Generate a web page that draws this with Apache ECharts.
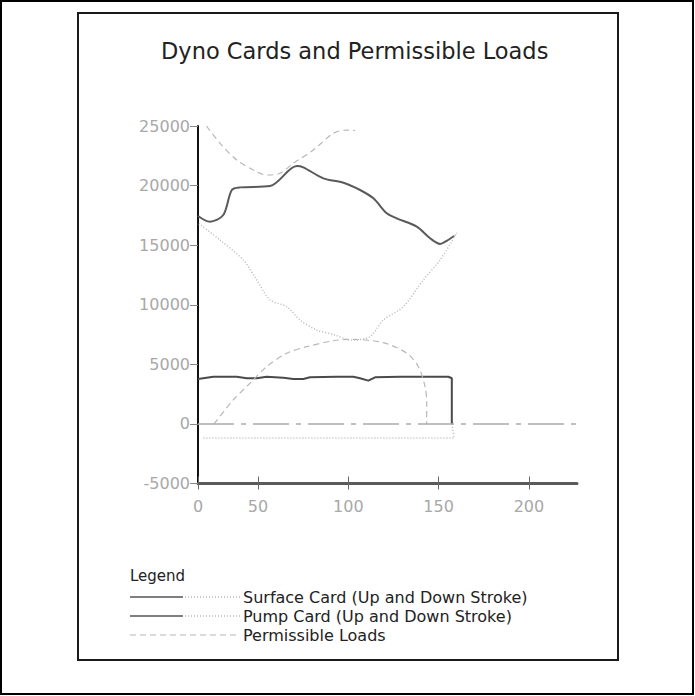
<!DOCTYPE html>
<html>
<head>
<meta charset="utf-8">
<title>Dyno Cards and Permissible Loads</title>
<script src="https://cdn.jsdelivr.net/npm/echarts@6/dist/echarts.min.js"></script>
<style>
  html, body { margin: 0; padding: 0; background: #fff; }
  #chart { width: 695px; height: 696px; }
</style>
</head>
<body>
<div id="chart"></div>
<script>
'use strict';

// x axis: the plot's "0" label sits at the axis origin, the other ticks are evenly spaced
var xTickValues = [16.8, 50, 100, 150, 200];
var xTickLabels = ['0', '50', '100', '150', '200'];

// surface card, up stroke (solid) and down stroke (dotted)
var surfaceUp = [
  [16.8, 17450], [23.4, 16970], [30.8, 17530], [35.5, 19630], [40.1, 19850],
  [56.7, 19960], [71.5, 21640], [75.1, 21530], [86.2, 20610], [97.3, 20240],
  [106.5, 19630], [113.9, 18930], [121.3, 17670], [126.8, 17250], [137.9, 16550],
  [145.3, 15580], [150.8, 15100], [154.5, 15370], [158.6, 15770]
];
var surfaceDown = [
  [158.6, 15770], [160.0, 16020], [150.8, 13750], [141.5, 12080], [130.5, 9840],
  [119.4, 8720], [112.0, 7320], [101.0, 7040], [92.7, 7460], [82.5, 7880],
  [73.3, 8720], [65.9, 9840], [56.7, 10400], [49.3, 12080], [41.9, 13750],
  [29.0, 15430], [16.8, 16860]
];

// pump card, up stroke (solid) and down stroke (dotted)
var pumpUp = [
  [16.8, 3770], [25.3, 3960], [38.2, 3960], [43.8, 3830], [49.3, 3830],
  [54.8, 3960], [64.0, 3880], [69.6, 3770], [75.1, 3770], [78.8, 3910],
  [93.6, 3960], [102.8, 3960], [106.5, 3830], [111.1, 3630], [114.8, 3910],
  [128.6, 3960], [155.4, 3960], [157.3, 3830], [157.3, 0]
];
var pumpDown = [
  [157.3, 0], [158.6, -1180], [19.0, -1180]
];

// permissible loads (max and min)
var permUpper = [
  [21.5, 25000], [29.0, 23550], [38.2, 22150], [47.4, 21310], [54.8, 20890],
  [62.2, 21030], [69.6, 21870], [80.6, 22980], [91.7, 24390], [99.1, 24660],
  [103.7, 24620]
];
var permLower = [
  [25.7, 0], [36.3, 2010], [45.6, 3410], [54.8, 4800], [65.9, 5930],
  [77.0, 6480], [91.7, 6980], [101.0, 7100], [119.4, 6820], [132.4, 5930],
  [138.8, 4800], [142.5, 3120], [143.4, 1730], [143.4, 0]
];

var legendRows = [
  {text: 'Surface Card (Up and Down Stroke)', kind: 'card'},
  {text: 'Pump Card (Up and Down Stroke)', kind: 'card'},
  {text: 'Permissible Loads', kind: 'dash'}
];

var font = 'DejaVu Sans';
var labelGrey = '#a8a8a8';
var dotGrey = '#b8b8b8';

var lineSeries = function (name, data, color, width, type, smooth) {
  return {
    name: name,
    type: 'line',
    data: data,
    smooth: smooth,
    showSymbol: false,
    symbol: 'none',
    silent: true,
    lineStyle: {color: color, width: width, type: type},
    emphasis: {disabled: true},
    z: 3
  };
};

var buildLegend = function () {
  var items = [];
  var x0 = 130;
  items.push({
    type: 'text', left: x0, top: 568, silent: true,
    style: {text: 'Legend', font: '15px "' + font + '"', fill: '#222'}
  });
  for (var i = 0; i < legendRows.length; i++) {
    var y = 597 + i * 19;
    if (legendRows[i].kind === 'card') {
      items.push({
        type: 'line', silent: true,
        shape: {x1: x0, y1: y, x2: 183, y2: y},
        style: {stroke: '#555', lineWidth: 1.5}
      });
      items.push({
        type: 'line', silent: true,
        shape: {x1: 185, y1: y, x2: 240, y2: y},
        style: {stroke: dotGrey, lineWidth: 1.5, lineDash: [1, 2]}
      });
    } else {
      items.push({
        type: 'line', silent: true,
        shape: {x1: x0, y1: y, x2: 240, y2: y},
        style: {stroke: dotGrey, lineWidth: 1.2, lineDash: [6, 4]}
      });
    }
    items.push({
      type: 'text', silent: true, x: 243, y: y,
      style: {
        text: legendRows[i].text, font: '16px "' + font + '"', fill: '#222',
        textVerticalAlign: 'middle', verticalAlign: 'middle'
      }
    });
  }
  return items;
};

var chart = echarts.init(document.getElementById('chart'), null, {renderer: 'svg'});

var option = {
  backgroundColor: '#fff',
  animation: false,
  title: {
    text: 'Dyno Cards and Permissible Loads',
    left: 156,
    top: 34,
    textStyle: {fontFamily: font, fontSize: 22.5, fontWeight: 'normal', color: '#222'}
  },
  grid: {left: 198, right: 118, top: 126, bottom: 212.5, containLabel: false},
  xAxis: [{
    type: 'value',
    min: 16.8,
    max: 226.6,
    splitLine: {show: false},
    axisLine: {show: true, onZero: false, lineStyle: {color: '#5a5a5a', width: 3}},
    axisTick: {show: true, length: 6, customValues: xTickValues, lineStyle: {color: '#666', width: 1}},
    axisLabel: {
      margin: 15,
      customValues: xTickValues,
      color: labelGrey,
      fontFamily: font,
      fontSize: 16,
      formatter: function (v) {
        var idx = xTickValues.indexOf(v);
        return idx >= 0 ? xTickLabels[idx] : '';
      }
    }
  }, {
    // second axis only adds the part of each tick that crosses into the plot
    type: 'value',
    min: 16.8,
    max: 226.6,
    position: 'bottom',
    splitLine: {show: false},
    axisLine: {show: false, onZero: false},
    axisLabel: {show: false},
    axisTick: {show: true, inside: true, length: 7, customValues: xTickValues, lineStyle: {color: '#666', width: 1}}
  }],
  yAxis: {
    type: 'value',
    min: -5000,
    max: 25000,
    interval: 5000,
    splitLine: {show: false},
    axisLine: {show: true, onZero: false, lineStyle: {color: '#111', width: 2}},
    axisTick: {show: true, length: 8, lineStyle: {color: '#888', width: 1}},
    axisLabel: {
      margin: 8, color: labelGrey, fontFamily: font, fontSize: 16,
      formatter: function (v) { return String(v); }
    }
  },
  graphic: [
    {
      type: 'rect', silent: true,
      shape: {x: 1, y: 1, width: 692, height: 693},
      style: {fill: 'none', stroke: '#000', lineWidth: 2}
    },
    {
      type: 'rect', silent: true,
      shape: {x: 78, y: 13, width: 540, height: 647},
      style: {fill: 'none', stroke: '#1a1a1a', lineWidth: 2}
    }
  ].concat(buildLegend()),
  series: [
    lineSeries('Surface Card up', surfaceUp, '#5a5a5a', 2, 'solid', 0.3),
    lineSeries('Surface Card down', surfaceDown, dotGrey, 1.5, [1, 2], 0.3),
    lineSeries('Pump Card up', pumpUp, '#4a4a4a', 2, 'solid', false),
    lineSeries('Pump Card down', pumpDown, dotGrey, 1.5, [1, 2], false),
    lineSeries('Permissible max', permUpper, dotGrey, 1.2, [6, 4], 0.3),
    (function () {
      var s = lineSeries('Permissible min', permLower, dotGrey, 1.2, [6, 4], 0.3);
      // zero reference line, dash-dot
      s.markLine = {
        silent: true,
        symbol: ['none', 'none'],
        label: {show: false},
        lineStyle: {color: '#aaa', width: 1.5, type: [36, 7, 5, 7]},
        data: [{yAxis: 0}]
      };
      return s;
    })()
  ]
};

chart.setOption(option);
</script>
</body>
</html>
